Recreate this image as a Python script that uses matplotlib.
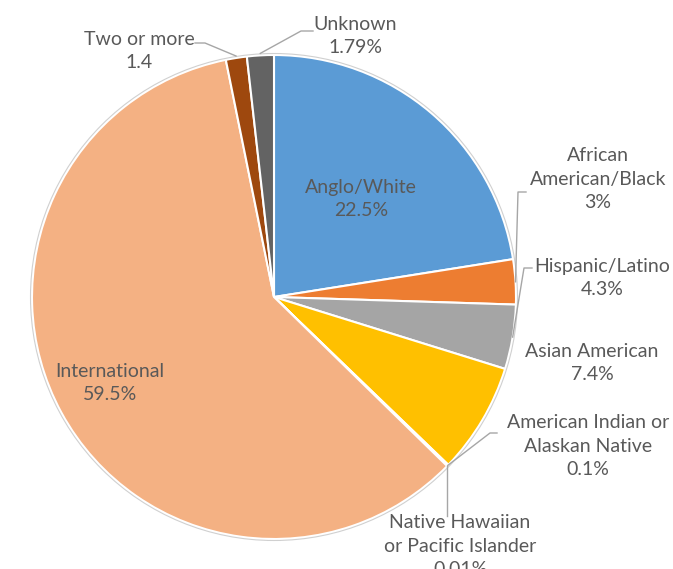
import matplotlib
matplotlib.use("Agg")
import matplotlib.pyplot as plt
import numpy as np

categories = ["Anglo/White", "African\nAmerican/Black", "Hispanic/Latino", "Asian American",
              "American Indian or\nAlaskan Native", "Native Hawaiian\nor Pacific Islander",
              "International", "Two or more", "Unknown"]
values = [22.5, 3, 4.3, 7.4, 0.1, 0.01, 59.5, 1.4, 1.79]
value_labels = ["22.5%", "3%", "4.3%", "7.4%", "0.1%", "0.01%", "59.5%", "1.4", "1.79%"]
colors = ["#5B9BD5", "#ED7D31", "#A5A5A5", "#FFC000", "#4472C4", "#70AD47",
          "#F4B183", "#9E480E", "#636363"]

W, H = 673, 569
fig = plt.figure(figsize=(W / 100, H / 100), dpi=100)
ax = fig.add_axes([0, 0, 1, 1])

cx, cy, R = 274, H - 297, 242
wedges, _ = ax.pie(values, colors=colors, startangle=90, counterclock=False,
                   center=(cx, cy), radius=R, frame=True,
                   wedgeprops=dict(edgecolor="white", linewidth=1.5))
ax.set_xlim(0, W)
ax.set_ylim(0, H)
ax.set_aspect("equal")
ax.axis("off")
ax.add_patch(plt.Circle((cx, cy), R + 1.5, fill=False, edgecolor="#D0D0D0", lw=0.8))

txt_color = "#595959"
font = dict(family=["Lato", "DejaVu Sans"], fontsize=14, color=txt_color,
            ha="center", va="center", linespacing=1.45)

def pt(i, r=R):
    w = wedges[i]
    a = np.deg2rad((w.theta1 + w.theta2) / 2)
    return cx + r * np.cos(a), cy + r * np.sin(a)

def Y(y):
    return H - y

# label positions (pixel coords, top-origin)
label_pos = {
    0: (361, 199),
    1: (598, 179),
    2: (602, 278),
    3: (592, 363),
    4: (588, 446),
    5: (460, 546),
    6: (110, 383),
    7: (139, 51),
    8: (355, 36),
}
for i, (x, y) in label_pos.items():
    ax.text(x, Y(y), categories[i] + "\n" + value_labels[i], **font)

lc = "#A6A6A6"
lw = 1.0
# African American/Black
ax_, ay_ = pt(1)
ax.plot([526, 518, ax_], [Y(192), Y(192), ay_], color=lc, lw=lw)
# Hispanic/Latino
ax_, ay_ = pt(2)
ax.plot([532, 524, ax_], [Y(268), Y(268), ay_], color=lc, lw=lw)
# American Indian
ax_, ay_ = pt(4)
ax.plot([497, 490, ax_], [Y(433), Y(433), ay_], color=lc, lw=lw)
# Native Hawaiian
ax_, ay_ = pt(5)
ax.plot([ax_, ax_], [ay_, Y(516)], color=lc, lw=lw)
# Two or more
ax_, ay_ = pt(7, R + 2)
ax.plot([195, 205, ax_], [Y(43), Y(43), ay_], color=lc, lw=lw)
# Unknown
ax_, ay_ = pt(8, R + 2)
ax.plot([313, 301, ax_], [Y(31), Y(31), ay_], color=lc, lw=lw)

fig.savefig("out.png", dpi=100, facecolor="white")
